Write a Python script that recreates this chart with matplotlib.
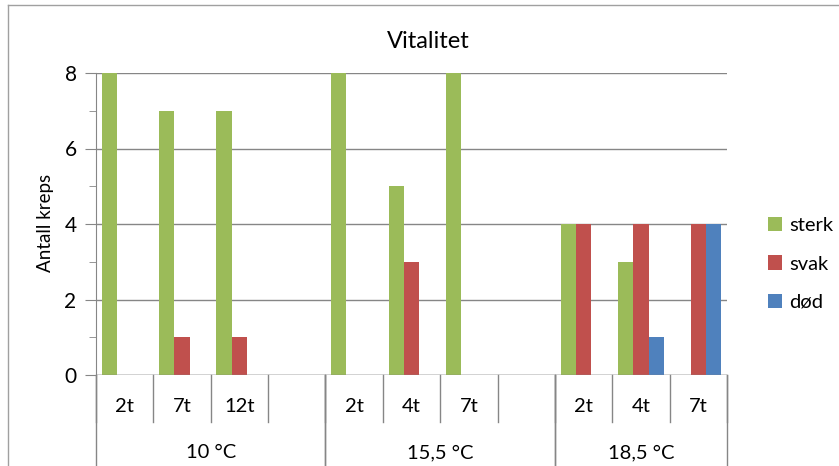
import numpy as np
import matplotlib.pyplot as plt
from matplotlib.lines import Line2D

plt.rcParams['font.family'] = ['Lato', 'DejaVu Sans']

# data
timer = ['2t', '7t', '12t', '', '2t', '4t', '7t', '', '2t', '4t', '7t']
grupper = ['10 °C', '15,5 °C', '18,5 °C']
gruppe_start = [0, 4, 8]
gruppe_slutt = [4, 8, 11]
sterk = [8, 7, 7, 0, 8, 5, 8, 0, 4, 3, 0]
svak = [0, 1, 1, 0, 0, 3, 0, 0, 4, 4, 4]
dod = [0, 0, 0, 0, 0, 0, 0, 0, 0, 1, 4]

W, H = 839, 466
fig = plt.figure(figsize=(W / 100, H / 100), dpi=100)
left, right, top, bottom = 96, 727, 73, 375
ax = fig.add_axes([left / W, 1 - bottom / H, (right - left) / W, (bottom - top) / H])

x = np.arange(len(timer)) + 0.5
bw = 0.267
ax.bar(x - bw, sterk, bw, color='#9BBB59', label='sterk', zorder=3)
ax.bar(x, svak, bw, color='#C0504D', label='svak', zorder=3)
ax.bar(x + bw, dod, bw, color='#4F81BD', label='død', zorder=3)

ax.set_xlim(0, len(timer))
ax.set_ylim(0, 8)
ax.set_yticks([0, 2, 4, 6, 8])
ax.set_yticks([1, 3, 5, 7], minor=True)
ax.yaxis.grid(True, color='#868686', linewidth=1, zorder=0)
ax.tick_params(axis='y', which='major', length=8, color='#868686', labelsize=15, pad=6)
ax.tick_params(axis='y', which='minor', length=5, color='#868686')
ax.set_xticks([])
for s in ['top', 'right', 'bottom']:
    ax.spines[s].set_visible(False)
ax.spines['left'].set_color('#868686')

# category axis, two levels
ax.axhline(0, color='#868686', linewidth=1, zorder=4)
trans = ax.get_xaxis_transform()
inner_bot = -47 / (bottom - top)
outer_bot = -100 / (bottom - top)
for i in range(len(timer) + 1):
    ax.plot([i, i], [0, inner_bot], color='#868686', lw=1, transform=trans, clip_on=False)
    ax.text(i + 0.5, -32 / (bottom - top), timer[i] if i < len(timer) else '',
            ha='center', va='center', fontsize=14.5, transform=trans)
for g, a, b in zip(grupper, gruppe_start, gruppe_slutt):
    ax.plot([a, a], [0, outer_bot], color='#868686', lw=1, transform=trans, clip_on=False)
    ax.plot([b, b], [0, outer_bot], color='#868686', lw=1, transform=trans, clip_on=False)
    ax.text((a + b) / 2, -78 / (bottom - top), g, ha='center', va='center',
            fontsize=14.5, transform=trans)

fig.text(45 / W, 1 - 223 / H, 'Antall kreps', rotation=90, ha='center', va='center',
         fontsize=13.5)
fig.text(428 / W, 1 - 42 / H, 'Vitalitet', ha='center', va='center', fontsize=17)

ax.legend(loc='center left', bbox_to_anchor=(758 / W, 1 - 264 / H),
          bbox_transform=fig.transFigure, frameon=False, fontsize=14.5,
          handlelength=0.7, handleheight=0.7, handletextpad=0.35,
          labelspacing=1.05, borderpad=0)

# chart border
fig.add_artist(Line2D([8 / W, 8 / W], [0, 1 - 5 / H], color='#A0A0A0', lw=1))
fig.add_artist(Line2D([8 / W, 1], [1 - 5 / H, 1 - 5 / H], color='#A0A0A0', lw=1))

fig.savefig('out.png', dpi=100)
